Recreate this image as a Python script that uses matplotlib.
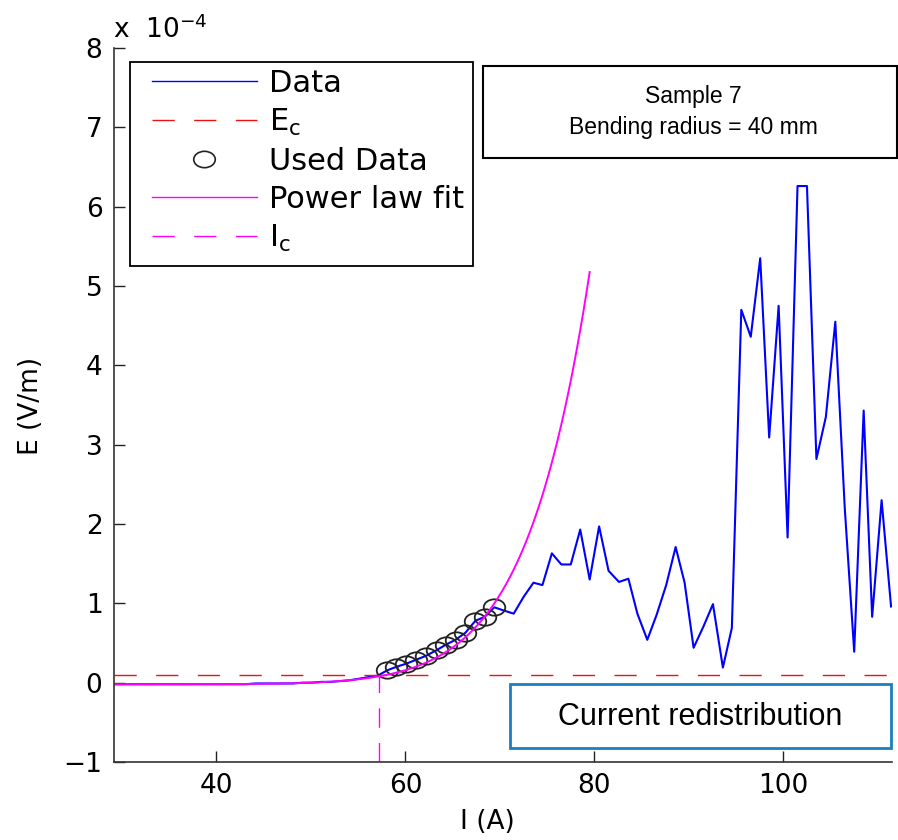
import numpy as np
import matplotlib
matplotlib.use("Agg")
import matplotlib.pyplot as plt
from matplotlib.lines import Line2D
from matplotlib.patches import Rectangle
from matplotlib.path import Path
from matplotlib.transforms import Affine2D

plt.rcParams['font.family'] = ['DejaVu Sans']
plt.rcParams['mathtext.fontset'] = 'dejavusans'

# the boxed notes use a narrower face
BOX_FONT = ['Liberation Sans', 'DejaVu Sans']

# measured E-I curve (E in units of 1e-4 V/m)
I_low = [29.1, 30.1, 31.1, 32.1, 33.1, 34.1, 35.1, 36.1, 37.1, 38.1,
         39.1, 40.1, 41.1, 42.1, 43.1, 44.1, 45.1, 46.1, 47.1, 48.1,
         49.1, 50.1, 51.1, 52.1, 53.1, 54.1, 55.1, 56.1, 57.1]
E_low = [-0.02, -0.02, -0.02, -0.02, -0.02, -0.02, -0.02, -0.02, -0.02, -0.02,
         -0.02, -0.02, -0.02, -0.02, -0.02, -0.01, -0.01, -0.01, -0.01, -0.01,
         0.0, 0.0, 0.01, 0.01, 0.02, 0.03, 0.05, 0.07, 0.09]

I_used = [58.06, 59.05, 60.1, 61.16, 62.2, 63.3, 64.3, 65.3, 66.35, 67.4, 68.4, 69.4]
E_used = [0.155, 0.20, 0.24, 0.29, 0.34, 0.41, 0.48, 0.54, 0.63, 0.78, 0.83, 0.95]

I_high = [70.4, 71.46, 72.5, 73.55, 74.5, 75.5, 76.5, 77.5, 78.5, 79.5,
          80.5, 81.5, 82.6, 83.6, 84.55, 85.6, 86.6, 87.6, 88.6, 89.55,
          90.5, 91.55, 92.55, 93.6, 94.55, 95.55, 96.55, 97.55, 98.5, 99.5,
          100.45, 101.5, 102.5, 103.5, 104.5, 105.5, 106.5, 107.5, 108.5, 109.4,
          110.4, 111.4]
E_high = [0.91, 0.87, 1.08, 1.26, 1.23, 1.63, 1.49, 1.49, 1.93, 1.30,
          1.97, 1.41, 1.27, 1.31, 0.87, 0.54, 0.86, 1.23, 1.71, 1.26,
          0.44, 0.71, 0.99, 0.19, 0.69, 4.70, 4.36, 5.35, 3.09, 4.75,
          1.83, 6.26, 6.26, 2.82, 3.35, 4.55, 2.2, 0.39, 3.43, 0.83,
          2.30, 0.96]

I_data = np.array(I_low + I_used + I_high)
E_data = np.array(E_low + E_used + E_high)

# criterion and fit parameters
Ec = 0.1
Ic = 57.2
n_value = 12.0
fit_offset = -0.02
fit_end = 79.5

xlim = (29.1, 111.5)
ylim = (-1, 8)

fig = plt.figure(figsize=(8.98, 8.4), dpi=100)
ax = fig.add_axes([113.5 / 898, 1 - 762 / 840, (892 - 113.5) / 898, (762 - 48) / 840])

# the original picture is a bit wider than tall, circles come out as ellipses
ellipse = Path.unit_circle().transformed(Affine2D().scale(1.0, 0.76))

I_fit = np.linspace(xlim[0], fit_end, 300)
E_fit = Ec * (I_fit / Ic) ** n_value + fit_offset

ax.plot(I_data, E_data, color='blue', lw=1.5)
ax.plot(xlim, [Ec, Ec], color='#ee1111', lw=1, dashes=(16, 14))
ax.plot(I_used, E_used, ls='none', marker=ellipse, mfc='none', mec='#222222', ms=15.5, mew=1.3)
ax.plot(I_fit, E_fit, color='magenta', lw=1.4)
ax.plot([Ic, Ic], [ylim[0], Ec], color='magenta', lw=1.0, dashes=(14, 11))

ax.set_xlim(xlim)
ax.set_ylim(ylim)
ax.set_xticks([40, 60, 80, 100])
ax.set_yticks(range(-1, 9))
ax.spines['top'].set_visible(False)
ax.spines['right'].set_visible(False)
for s in ('left', 'bottom'):
    ax.spines[s].set_color('#333333')
    ax.spines[s].set_linewidth(1.2)
ax.tick_params(direction='in', length=8, width=1, colors='#222222',
               labelsize=19, labelcolor='black', pad=8)

ax.set_xlabel('I (A)', fontsize=19)
ax.xaxis.set_label_coords((487 - 113.5) / 778.5, (762 - 809) / 714)
ax.set_ylabel('E (V/m)', fontsize=19)
ax.yaxis.set_label_coords((44 - 113.5) / 778.5, (762 - 406) / 714)

fig.text(113 / 898, 1 - 38 / 840, r'x  10$^{-4}$', fontsize=19,
         ha='left', va='baseline')

handles = [
    Line2D([], [], color='blue', lw=1),
    Line2D([], [], color='#ee1111', lw=1, dashes=(16, 14)),
    Line2D([], [], ls='none', marker=ellipse, mfc='none', mec='#222222', ms=15.5, mew=1.2),
    Line2D([], [], color='magenta', lw=1),
    Line2D([], [], color='magenta', lw=1, dashes=(16, 14)),
]
labels = ['Data', r'E$_\mathregular{c}$', 'Used Data', 'Power law fit', r'I$_\mathregular{c}$']
leg = ax.legend(handles, labels, loc='upper left',
                bbox_to_anchor=(152 / 898, 1 - 69 / 840), bbox_transform=fig.transFigure,
                fontsize=22, frameon=False, handlelength=3.43,
                handletextpad=0.4, labelspacing=0.29, borderpad=0, borderaxespad=0)

# legend frame drawn separately
fig.add_artist(Rectangle((130 / 898, 1 - 266 / 840), (473 - 130) / 898, (266 - 62) / 840,
                         transform=fig.transFigure, fill=False, ec='black', lw=1.3))

# annotation boxes
fig.add_artist(Rectangle((483 / 898, 1 - 158 / 840), (897 - 483) / 898, (158 - 66) / 840,
                         transform=fig.transFigure, fill=False, ec='black', lw=1.5))
fig.text(693 / 898, 1 - 112 / 840, 'Sample 7\nBending radius = 40 mm',
         family=BOX_FONT, fontsize=16.5, ha='center', va='center', linespacing=1.4)

fig.add_artist(Rectangle((510 / 898, 1 - 748 / 840), (891 - 510) / 898, (748 - 684) / 840,
                         transform=fig.transFigure, fill=False, ec='#1a7fc1', lw=2))
fig.text(700 / 898, 1 - 717 / 840, 'Current redistribution',
         family=BOX_FONT, fontsize=22, ha='center', va='center')

fig.savefig('out.png', dpi=100)
